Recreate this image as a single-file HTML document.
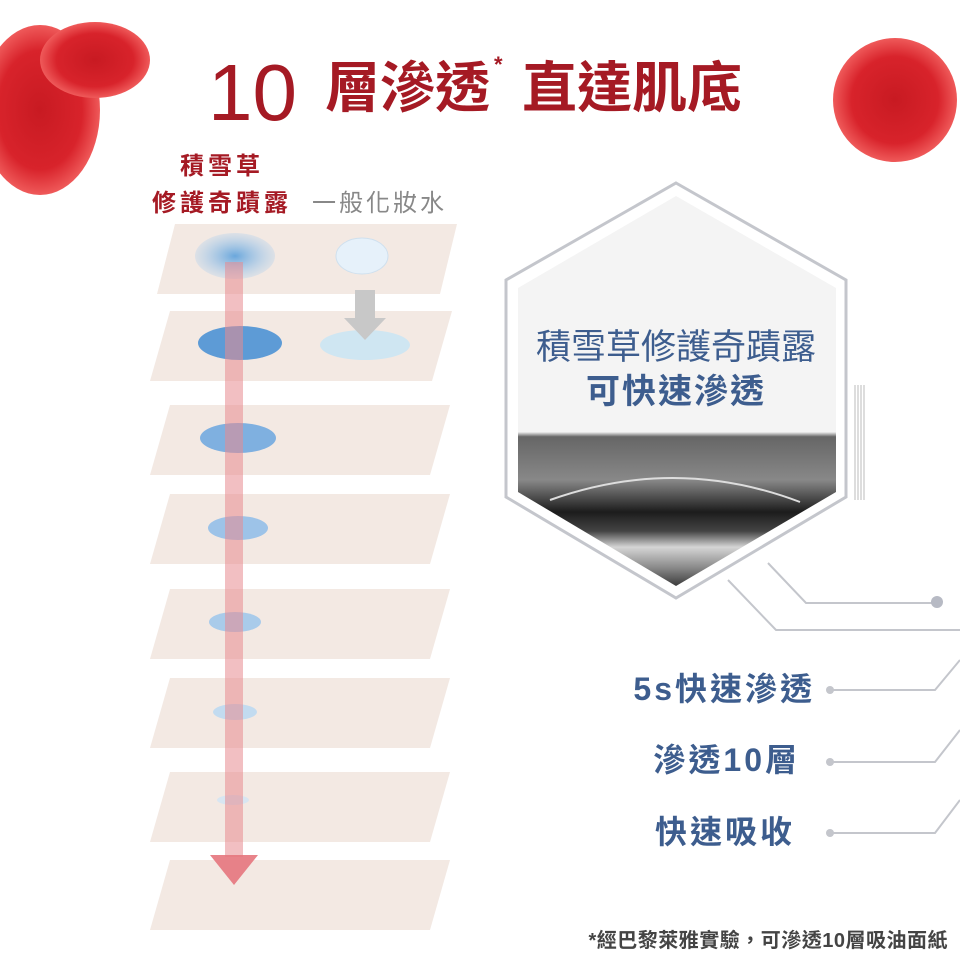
<!DOCTYPE html>
<html><head><meta charset="utf-8"><style>
body{margin:0;background:#fff}
svg{display:block}
text{font-family:"Liberation Sans","Noto Sans CJK TC",sans-serif}
</style></head><body>
<svg width="960" height="960" viewBox="0 0 960 960">
<defs>
<radialGradient id="fl" cx="50%" cy="50%" r="50%"><stop offset="0" stop-color="#c81a22"/><stop offset="0.7" stop-color="#d8232b"/><stop offset="1" stop-color="#ef5a5a"/></radialGradient>
<linearGradient id="ph" x1="0" y1="0" x2="0" y2="1"><stop offset="0" stop-color="#f2f2f2"/><stop offset="0.03" stop-color="#666"/><stop offset="0.3" stop-color="#888"/><stop offset="0.5" stop-color="#1c1c1c"/><stop offset="0.62" stop-color="#444"/><stop offset="0.72" stop-color="#d5d5d5"/><stop offset="0.85" stop-color="#888"/><stop offset="1" stop-color="#222"/></linearGradient>
<clipPath id="hx"><polygon points="676,196 836,288 836,492 676,586 518,492 518,288"/></clipPath>
<radialGradient id="bl"><stop offset="0" stop-color="#6aa7dc"/><stop offset="1" stop-color="#a9cdee" stop-opacity="0.3"/></radialGradient>
</defs>
<ellipse cx="40" cy="110" rx="60" ry="85" fill="url(#fl)"/>
<ellipse cx="95" cy="60" rx="55" ry="38" fill="url(#fl)"/>
<ellipse cx="895" cy="100" rx="62" ry="62" fill="url(#fl)"/>
<text x="208" y="120" font-size="80" fill="#a51a24">10</text>
<text x="325" y="107" font-size="55" font-weight="bold" fill="#a51a24">層滲透</text>
<text x="494" y="72" font-size="22" font-weight="bold" fill="#a51a24">*</text>
<text x="522" y="107" font-size="55" font-weight="bold" fill="#a51a24">直達肌底</text>
<text x="180" y="174" font-size="24" font-weight="bold" fill="#a51a24" letter-spacing="4">積雪草</text>
<text x="152" y="211" font-size="24" font-weight="bold" fill="#a51a24" letter-spacing="4">修護奇蹟露</text>
<text x="312" y="211" font-size="24" fill="#888" letter-spacing="3">一般化妝水</text>
<g fill="#f3e9e3">
<polygon points="175,224 457,224 440,294 157,294"/>
<polygon points="170,311 452,311 432,381 150,381"/>
<polygon points="170,405 450,405 430,475 150,475"/>
<polygon points="170,494 450,494 430,564 150,564"/>
<polygon points="170,589 450,589 430,659 150,659"/>
<polygon points="170,678 450,678 430,748 150,748"/>
<polygon points="170,772 450,772 430,842 150,842"/>
<polygon points="170,860 450,860 430,930 150,930"/>
</g>
<ellipse cx="235" cy="256" rx="40" ry="23" fill="url(#bl)"/>
<ellipse cx="362" cy="256" rx="26" ry="18" fill="#e6f1fa" stroke="#cfe0ee"/>
<ellipse cx="240" cy="343" rx="42" ry="17" fill="#5d9bd6"/>
<ellipse cx="365" cy="345" rx="45" ry="15" fill="#cfe6f2"/>
<polygon points="355,290 375,290 375,318 386,318 365,340 344,318 355,318" fill="#c8c8c8"/>
<ellipse cx="238" cy="438" rx="38" ry="15" fill="#7fb0e0"/>
<ellipse cx="238" cy="528" rx="30" ry="12" fill="#9dc3e8"/>
<ellipse cx="235" cy="622" rx="26" ry="10" fill="#a9cbea"/>
<ellipse cx="235" cy="712" rx="22" ry="8" fill="#c2dbf0"/>
<ellipse cx="233" cy="800" rx="16" ry="5" fill="#d8e6f2"/>
<rect x="225" y="262" width="18" height="595" fill="#e88a90" opacity="0.55"/>
<polygon points="210,855 258,855 234,885" fill="#e5767d" opacity="0.9"/>
<polygon points="676,183 846,280 846,497 676,598 506,497 506,280" fill="#fff" stroke="#c4c6cc" stroke-width="3"/>
<polygon points="676,196 836,288 836,492 676,586 518,492 518,288" fill="#f4f4f4"/>
<rect x="518" y="432" width="320" height="160" fill="url(#ph)" clip-path="url(#hx)"/>
<path d="M550,500 Q676,455 800,502" stroke="#ddd" stroke-width="2" fill="none"/>
<text x="676" y="359" font-size="35" fill="#3d5d8e" text-anchor="middle">積雪草修護奇蹟露</text>
<text x="676" y="403" font-size="34" font-weight="bold" fill="#3d5d8e" text-anchor="middle" letter-spacing="2">可快速滲透</text>
<g stroke="#bbb" stroke-width="1">
<path d="M855,385 V500 M858,385 V500 M861,385 V500 M864,385 V500"/>
</g>
<g stroke="#c4c6cc" stroke-width="2" fill="none">
<path d="M768,563 L806,603 H937"/>
<path d="M728,580 L776,630 H960"/>
<path d="M830,690 H935 L960,660"/>
<path d="M830,762 H935 L960,730"/>
<path d="M830,833 H935 L960,800"/>
</g>
<circle cx="937" cy="602" r="6" fill="#b7bac4"/>
<circle cx="830" cy="690" r="4" fill="#c4c6cc"/>
<circle cx="830" cy="762" r="4" fill="#c4c6cc"/>
<circle cx="830" cy="833" r="4" fill="#c4c6cc"/>
<text x="815" y="700" font-size="32" font-weight="bold" fill="#3d5d8e" text-anchor="end" letter-spacing="3">5s快速滲透</text>
<text x="800" y="771" font-size="32" font-weight="bold" fill="#3d5d8e" text-anchor="end" letter-spacing="3">滲透10層</text>
<text x="795" y="843" font-size="32" font-weight="bold" fill="#3d5d8e" text-anchor="end" letter-spacing="3">快速吸收</text>
<text x="948" y="947" font-size="20" fill="#444" font-weight="600" text-anchor="end" letter-spacing="0.5">*經巴黎萊雅實驗，可滲透10層吸油面紙</text>
</svg>
</body></html>
